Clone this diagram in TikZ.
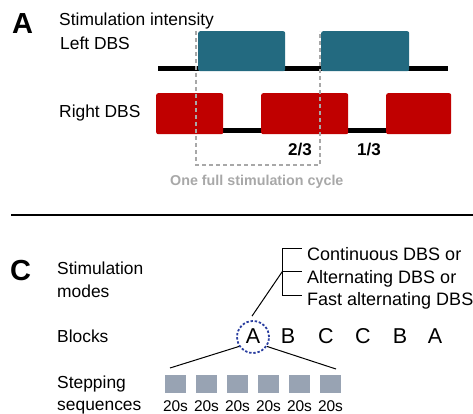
\documentclass[tikz,border=0pt]{standalone}
\usepackage{fontspec}
\setmainfont{Liberation Sans}
\usetikzlibrary{calc}
\definecolor{tealbox}{HTML}{236A80}
\definecolor{redbox}{HTML}{C00000}
\definecolor{cycgray}{HTML}{A8A8A8}
\definecolor{sqgray}{HTML}{98A3B3}
\definecolor{circblue}{HTML}{2B3FA0}
\begin{document}
\begin{tikzpicture}[x=1pt,y=-1pt,
  lbl/.style={inner sep=0pt, anchor=base west, font=\fontsize{17.4}{20}\selectfont},
  mode/.style={inner sep=0pt, anchor=base west, font=\fontsize{18}{20}\selectfont},
  panel/.style={inner sep=0pt, anchor=base west, font=\fontsize{29}{30}\selectfont\bfseries},
  frac/.style={inner sep=0pt, anchor=base west, font=\fontsize{17}{20}\selectfont\bfseries},
  lbox/.style={fill=tealbox, draw=none, rounded corners=2pt, inner sep=0pt, anchor=north west, minimum height=40pt},
  rbox/.style={fill=redbox, draw=none, rounded corners=2pt, inner sep=0pt, anchor=north west, minimum height=41pt},
  sigline/.style={line width=5pt, black},
  cyc/.style={draw=cycgray, line width=1.5pt, dash pattern=on 4pt off 3pt},
  blk/.style={inner sep=0pt, anchor=base, font=\fontsize{21.5}{24}\selectfont},
  sq/.style={fill=sqgray, draw=none, inner sep=0pt, minimum width=21pt, minimum height=18pt, anchor=north west},
  sec/.style={inner sep=0pt, anchor=base, font=\fontsize{15.5}{18}\selectfont},
  thin/.style={line width=1pt, black}
]
\useasboundingbox (0,0) rectangle (473,414);

% ---------- Panel A ----------
\node[panel] (pA) at (12,34) {A};
\node[lbl] (tStim) at (59,26) {Stimulation intensity};
\node[lbl] (tLeft) at (60,50) {Left DBS};
\node[lbl] (tRight) at (59,118) {Right DBS};

\draw[sigline] (158,68.5) -- (448,68.5);
\node[lbox, minimum width=87pt] (L1) at (198,31) {};
\node[lbox, minimum width=88pt] (L2) at (321,31) {};

\draw[sigline] (160,130.5) -- (448,130.5);
\node[rbox, minimum width=67pt] (R1) at (156,93) {};
\node[rbox, minimum width=87pt] (R2) at (261,93) {};
\node[rbox, minimum width=65pt] (R3) at (386,93) {};

\draw[cyc] (196,31) -- (196,165) -- (320,165) -- (320,31);

\node[frac] (f23) at (288,155) {2/3};
\node[frac] (f13) at (357,155) {1/3};
\node[inner sep=0pt, anchor=base west, text=cycgray, font=\fontsize{14.3}{16}\selectfont\bfseries] (tCycle) at (170,185) {One full stimulation cycle};

% separator
\draw[line width=2pt, black] (11,215) -- (473,215);

% ---------- Panel C ----------
\node[panel] (pC) at (10,280) {C};
\node[lbl] (tModes1) at (57,274) {Stimulation};
\node[lbl] (tModes2) at (57,297) {modes};
\node[lbl] (tBlocks) at (57,342) {Blocks};
\node[lbl] (tStep1) at (57,388) {Stepping};
\node[lbl] (tStep2) at (57,410) {sequences};

% blocks
\node[blk] (bA1) at (253,343) {A};
\node[blk] (bB1) at (288,343) {B};
\node[blk] (bC1) at (326,343) {C};
\node[blk] (bC2) at (363,343) {C};
\node[blk] (bB2) at (400,343) {B};
\node[blk] (bA2) at (435,343) {A};
\node[circle, draw=circblue, line width=1.8pt, dash pattern=on 2.4pt off 1.8pt, minimum size=32pt, inner sep=0pt] (circA) at (253,337) {};

% mode bracket
\coordinate (brT) at (282.7,248);
\coordinate (brM) at (282.7,271);
\coordinate (brB) at (282.7,295);
\draw[thin] (301.7,248) -- (brT) -- (brB) -- (301.7,295);
\draw[thin] (brM) -- (301.7,271);
\node[mode] (m1) at (307,260) {Continuous DBS or};
\node[mode] (m2) at (307,283) {Alternating DBS or};
\node[mode] (m3) at (307,305) {Fast alternating DBS};
\draw[thin] ($(circA.north)+(-1,-4)$) -- (brM);

% stepping squares
\foreach \i in {1,...,6}{
  \node[sq] (s\i) at ({165+31*(\i-1)},375) {};
  \node[sec] (l\i) at ({175.5+31*(\i-1)},411) {20s};
}
\coordinate (lnL) at (170,368);
\coordinate (lnR) at (336,369);
\draw[thin] (circA.214) -- (lnL);
\draw[thin] (circA.-34) -- (lnR);
\end{tikzpicture}
\end{document}
